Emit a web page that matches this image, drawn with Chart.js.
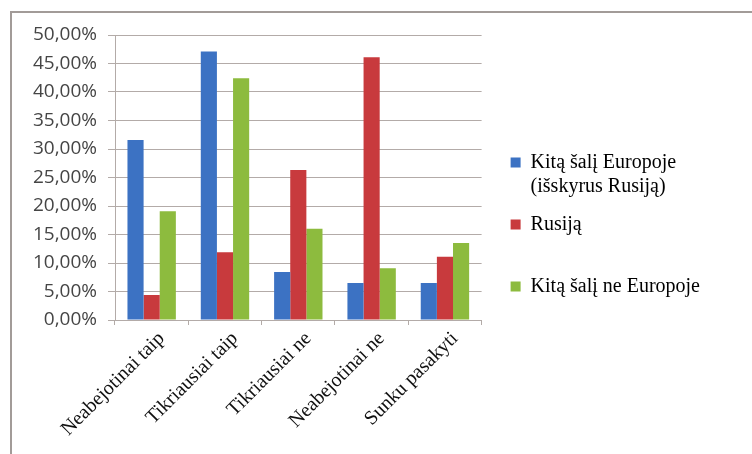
<!DOCTYPE html>
<html>
<head>
<meta charset="utf-8">
<script src="https://cdn.jsdelivr.net/npm/chart.js@4/dist/chart.umd.min.js"></script>
<style>
  html, body { margin: 0; padding: 0; background: #fff; }
  .wrap { position: relative; width: 752px; height: 454px; overflow: hidden; }
  .frame { position: absolute; left: 10px; top: 11px; width: 760px; height: 460px; border-left: 2px solid #a29b98; border-top: 2px solid #a29b98; }
  canvas { position: absolute; left: 0; top: 0; }
</style>
</head>
<body>
<div class="wrap">
  <div class="frame"></div>
  <canvas id="chart" width="752" height="454"></canvas>
</div>
<script>
// answer categories (x axis)
const categories = ['Neabejotinai taip', 'Tikriausiai taip', 'Tikriausiai ne', 'Neabejotinai ne', 'Sunku pasakyti'];

// series names (legend lines; empty lines keep the Excel-like spacing)
const seriesNames = [['Kitą šalį Europoje', '(išskyrus Rusiją)'], ['Rusiją', ''], ['Kitą šalį ne Europoje', '']];

// values in percent
const europe = [31.6, 47.1, 8.4, 6.5, 6.5];
const russia = [4.4, 11.9, 26.3, 46.1, 11.1];
const outsideEurope = [19.1, 42.4, 16.0, 9.1, 13.5];

const colors = ['#3c72c3', '#c83a3d', '#8dbb3e'];
const gridColor = '#b3aba8';

// push the legend a bit away from the plot, like the Excel original
const legendShift = {
    id: 'legendShift',
    afterLayout(chart) {
        chart.legend.left += 15;
        chart.legend.right += 15;
    }
};

const ctx = document.getElementById('chart').getContext('2d');

new Chart(ctx, {
    type: 'bar',
    data: {
        labels: categories,
        datasets: [
            { label: seriesNames[0].join(' '), data: europe, backgroundColor: colors[0] },
            { label: seriesNames[1].join(' '), data: russia, backgroundColor: colors[1] },
            { label: seriesNames[2].join(' '), data: outsideEurope, backgroundColor: colors[2] }
        ]
    },
    plugins: [legendShift],
    options: {
        responsive: false,
        animation: false,
        layout: { padding: { left: 0, top: 35, right: 57, bottom: 12 } },
        datasets: {
            bar: { categoryPercentage: 0.66, barPercentage: 1.0 }
        },
        plugins: {
            tooltip: { enabled: false },
            legend: {
                position: 'right',
                align: 'center',
                maxWidth: 300,
                labels: {
                    color: '#111',
                    font: { family: "'Liberation Serif', 'Times New Roman', serif", size: 20 },
                    boxWidth: 10,
                    boxHeight: 10,
                    padding: 14,
                    generateLabels: function(chart) {
                        return chart.data.datasets.map((ds, i) => ({
                            text: seriesNames[i],
                            fillStyle: colors[i],
                            strokeStyle: colors[i],
                            lineWidth: 0,
                            datasetIndex: i,
                            hidden: false
                        }));
                    }
                }
            }
        },
        scales: {
            x: {
                afterFit: function(scale) { scale.height = 122; },
                grid: {
                    offset: true,
                    drawOnChartArea: false,
                    color: gridColor,
                    tickLength: 5
                },
                border: { color: gridColor, width: 1 },
                ticks: {
                    minRotation: 45,
                    maxRotation: 45,
                    padding: 2,
                    labelOffset: 10,
                    color: '#111',
                    font: { family: "'Liberation Serif', 'Times New Roman', serif", size: 20 }
                }
            },
            y: {
                min: 0,
                max: 50,
                afterFit: function(scale) { scale.width = 115; },
                grid: {
                    color: gridColor,
                    tickLength: 7
                },
                border: { color: gridColor, width: 1 },
                ticks: {
                    stepSize: 5,
                    padding: 11,
                    color: '#454545',
                    font: { family: "'Open Sans', sans-serif", size: 19 },
                    callback: function(value) {
                        return value.toFixed(2).replace('.', ',') + '%';
                    }
                }
            }
        }
    }
});
</script>
</body>
</html>
